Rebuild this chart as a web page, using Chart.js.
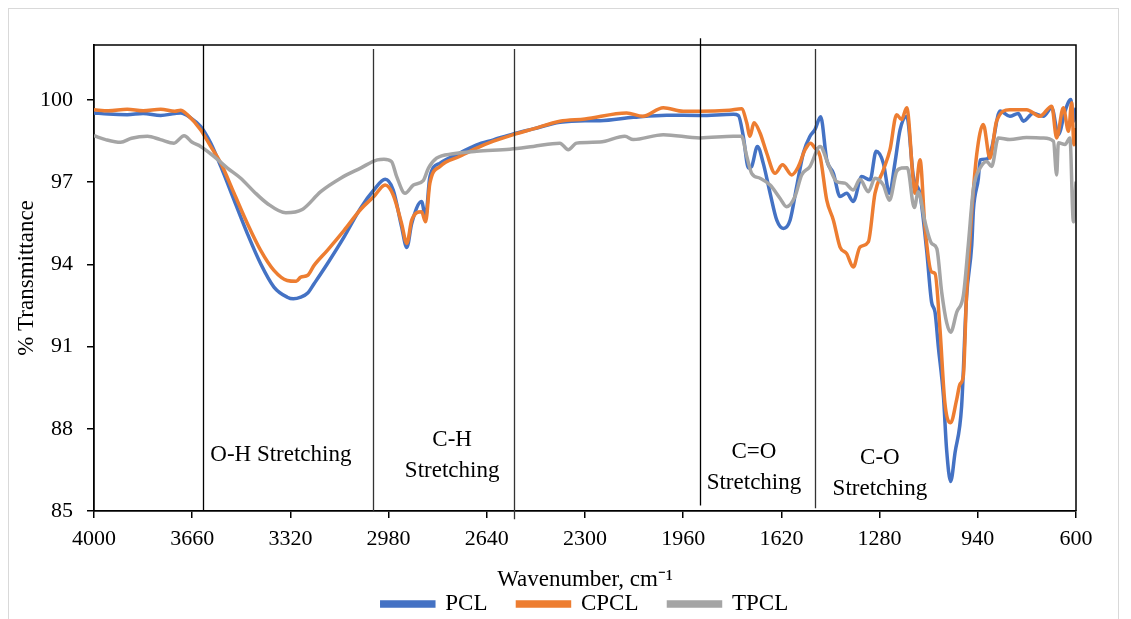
<!DOCTYPE html>
<html><head><meta charset="utf-8">
<script src="https://cdn.jsdelivr.net/npm/chart.js@4.4.1/dist/chart.umd.min.js"></script>
<style>
html,body{margin:0;padding:0;background:#fff;}
#wrap{position:relative;width:1131px;height:619px;overflow:hidden;background:#fff;}
#frame{position:absolute;left:8px;top:8px;width:1111px;height:660px;border:1px solid #d9d9d9;box-sizing:border-box;}
canvas{position:absolute;left:0;top:0;}
</style></head><body>
<div id="wrap"><div id="frame"></div><canvas id="c" width="1131" height="619"></canvas></div>
<script>
const seriesNames = ['PCL', 'CPCL', 'TPCL'];
const xTickValues = [4000, 3660, 3320, 2980, 2640, 2300, 1960, 1620, 1280, 940, 600];
const yTickValues = [85, 88, 91, 94, 97, 100];

const pclWave = [4000,3950,3885,3830,3769,3720,3700,3665,3631,3596,3561,3515,3469,3423,3377,3331,3310,3284,3260,3238,3192,3134,3077,3031,2992,2964,2935,2917,2900,2866,2852,2837,2802,2733,2675,2617,2548,2479,2387,2300,2248,2133,2017,1902,1786,1769,1752,1734,1723,1703,1683,1659,1636,1613,1590,1567,1544,1521,1504,1484,1463,1440,1417,1394,1371,1342,1313,1292,1267,1246,1227,1209,1186,1163,1140,1117,1100,1088,1077,1059,1048,1034,1019,996,979,961,955,938,932,909,892,863,829,800,782,748,713,684,661,638,618,609,600];
const pclT = [99.52,99.48,99.46,99.50,99.43,99.50,99.52,99.34,99.03,98.42,97.57,96.34,95.12,94.02,93.17,92.80,92.74,92.80,92.95,93.29,94.02,95.00,96.05,96.71,97.10,96.71,95.37,94.61,95.49,96.29,95.73,97.20,97.69,98.06,98.36,98.54,98.76,98.94,99.18,99.24,99.24,99.36,99.44,99.43,99.47,99.43,98.67,97.51,97.57,98.30,97.69,96.59,95.61,95.31,95.61,96.84,98.06,98.67,98.91,99.38,97.81,97.32,96.47,96.59,96.29,97.20,97.08,98.12,97.69,96.59,97.69,98.91,99.40,97.20,96.55,94.50,92.62,92.25,91.03,89.19,87.24,86.08,87.12,88.83,92.80,94.70,96.00,97.14,97.81,97.84,98.24,99.59,99.40,99.50,99.22,99.51,99.40,99.71,98.73,99.59,100.01,99.22,99.71];

const cpclWave = [4000,3950,3885,3830,3769,3720,3700,3677,3631,3596,3561,3515,3469,3423,3377,3331,3300,3284,3260,3238,3192,3134,3077,3031,2992,2964,2935,2917,2900,2866,2852,2837,2802,2733,2675,2617,2548,2479,2387,2300,2156,2100,2029,1960,1902,1800,1758,1740,1729,1715,1694,1671,1642,1616,1584,1561,1538,1519,1504,1486,1463,1440,1417,1394,1371,1348,1319,1296,1267,1244,1221,1204,1186,1157,1140,1123,1100,1088,1071,1054,1034,1013,1002,990,979,967,961,944,921,898,875,829,771,725,684,667,644,626,615,607,600];
const cpclT = [99.64,99.60,99.66,99.60,99.66,99.58,99.62,99.46,98.91,98.30,97.69,96.59,95.49,94.51,93.78,93.41,93.38,93.53,93.60,93.96,94.51,95.24,96.00,96.47,96.89,96.53,95.49,94.76,95.61,95.92,95.55,96.96,97.57,97.94,98.24,98.49,98.73,98.94,99.22,99.30,99.52,99.40,99.71,99.58,99.58,99.62,99.67,99.16,98.67,99.16,98.79,98.06,97.32,97.63,97.26,97.57,98.18,98.42,98.24,97.94,96.34,95.61,94.63,94.39,93.90,94.63,94.82,96.59,97.44,98.18,99.46,99.28,99.71,96.59,97.81,95.37,93.72,93.66,91.64,88.95,88.22,89.07,89.62,89.93,92.86,94.94,95.92,97.99,99.10,97.87,99.22,99.64,99.64,99.40,99.77,98.61,99.71,98.85,99.89,98.36,98.97];

const tpclWave = [4000,3960,3908,3870,3815,3770,3723,3688,3660,3631,3585,3538,3492,3446,3400,3336,3279,3215,3146,3077,3019,2996,2970,2952,2923,2894,2860,2842,2814,2756,2675,2560,2479,2387,2358,2329,2248,2162,2133,2029,1902,1786,1758,1740,1723,1694,1659,1625,1602,1573,1550,1521,1486,1457,1429,1400,1371,1348,1319,1296,1267,1246,1221,1204,1184,1160,1146,1123,1100,1082,1065,1048,1034,1013,990,973,955,932,909,892,869,829,771,713,678,667,661,638,621,609,600];
const tpclT = [98.69,98.55,98.45,98.60,98.67,98.55,98.42,98.69,98.45,98.30,97.94,97.51,97.14,96.65,96.22,95.88,96.00,96.65,97.14,97.51,97.81,97.83,97.75,97.20,96.59,96.89,97.05,97.51,97.87,98.03,98.12,98.20,98.30,98.42,98.18,98.42,98.46,98.67,98.55,98.73,98.61,98.67,98.67,97.94,97.32,97.14,96.89,96.41,96.10,96.47,97.26,97.57,98.30,97.63,97.02,96.96,96.71,97.10,96.65,97.14,96.89,96.34,97.39,97.51,97.52,96.07,96.65,95.55,94.76,94.57,92.98,91.88,91.52,92.25,92.86,94.70,96.77,97.51,97.75,97.57,98.61,98.55,98.63,98.61,98.49,97.26,98.43,98.37,98.61,95.55,97.02];

const FONT = "'Liberation Serif', 'Times New Roman', serif";
Chart.defaults.font.family = FONT;
Chart.defaults.color = '#000';

const toPts = (w, t) => w.map((x, i) => ({x: x, y: t[i]}));

const overlay = {
  id: 'overlay',
  afterDatasetsDraw(chart, args, opts) {
    const {ctx, chartArea: a, scales: {x, y}} = chart;
    ctx.save();
    ctx.strokeStyle = '#000';
    ctx.lineWidth = 1.5;
    ctx.beginPath();
    ctx.moveTo(a.left, a.top);
    ctx.lineTo(a.right, a.top);
    ctx.lineTo(a.right, a.bottom);
    ctx.stroke();
    opts.guides.forEach(g => {
      const px = Math.round(x.getPixelForValue(g.w)) + 0.5;
      ctx.strokeStyle = g.color;
      ctx.lineWidth = 1.3;
      ctx.beginPath();
      ctx.moveTo(px, y.getPixelForValue(g.top));
      ctx.lineTo(px, y.getPixelForValue(g.bottom));
      ctx.stroke();
    });
    ctx.font = opts.fontSize + 'px ' + FONT;
    ctx.fillStyle = '#000';
    ctx.textAlign = 'center';
    ctx.textBaseline = 'middle';
    opts.labels.forEach(l => {
      const px = x.getPixelForValue(l.w);
      const py = y.getPixelForValue(l.t);
      l.lines.forEach((t, i) => ctx.fillText(t, px, py + i * opts.lineGap));
    });
    ctx.restore();
  }
};

const mk = (label, pts, color, order) => ({
  label: label, data: pts, borderColor: color, backgroundColor: color,
  borderWidth: 3.5, pointRadius: 0, showLine: true, fill: false,
  cubicInterpolationMode: 'monotone', order: order
});

new Chart(document.getElementById('c'), {
  type: 'scatter',
  data: {
    datasets: [
      mk(seriesNames[0], toPts(pclWave, pclT), '#4472C4', 3),
      mk(seriesNames[1], toPts(cpclWave, cpclT), '#ED7D31', 2),
      mk(seriesNames[2], toPts(tpclWave, tpclT), '#A5A5A5', 1)
    ]
  },
  options: {
    responsive: false, devicePixelRatio: 1, animation: false,
    layout: {padding: {left: 8, top: 45, right: 55, bottom: 0}},
    plugins: {
      tooltip: {enabled: false},
      legend: {
        position: 'bottom', fullSize: false, maxHeight: 56.5,
        labels: {
          boxWidth: 52, boxHeight: 4, padding: 30, color: '#000',
          font: {size: 23, family: FONT},
          sort: (a, b) => a.datasetIndex - b.datasetIndex
        }
      },
      overlay: {
        fontSize: 23, lineGap: 31,
        guides: [
          {w: 3623, top: 102, bottom: 85, color: '#000'},
          {w: 3034, top: 101.85, bottom: 85, color: '#333'},
          {w: 2546, top: 101.85, bottom: 84.7, color: '#333'},
          {w: 1902, top: 102.25, bottom: 85.2, color: '#000'},
          {w: 1503, top: 101.85, bottom: 85.1, color: '#333'}
        ],
        labels: [
          {w: 3353, t: 87.06, lines: ['O-H Stretching']},
          {w: 2760, t: 87.6, lines: ['C-H', 'Stretching']},
          {w: 1715, t: 87.17, lines: ['C=O', 'Stretching']},
          {w: 1279, t: 86.95, lines: ['C-O', 'Stretching']}
        ]
      }
    },
    scales: {
      x: {
        type: 'linear', reverse: true, min: 600, max: 4000,
        afterBuildTicks: s => { s.ticks = xTickValues.map(v => ({value: v})); },
        afterFit: s => { s.height = 619 - 511 - 56.5; },
        ticks: {font: {size: 22}, color: '#000', padding: 8, maxRotation: 0, autoSkip: false, callback: v => String(v)},
        grid: {drawOnChartArea: false, drawTicks: true, tickLength: 7, color: '#000', lineWidth: 1.5},
        border: {color: '#000', width: 1.8},
        title: {display: true, text: 'Wavenumber, cm\u207B\u00B9', font: {size: 23}, color: '#000', padding: {top: 0, bottom: -31}}
      },
      y: {
        type: 'linear', min: 85, max: 102,
        afterBuildTicks: s => { s.ticks = yTickValues.map(v => ({value: v})); },
        afterFit: s => { s.width = 86; },
        ticks: {font: {size: 22}, color: '#000', padding: 14, callback: v => String(v)},
        grid: {drawOnChartArea: false, drawTicks: true, tickLength: 7, color: '#000', lineWidth: 1.5},
        border: {color: '#000', width: 1.8},
        title: {display: true, text: '% Transmittance', font: {size: 23}, color: '#000', padding: {top: 5, bottom: 0}}
      }
    }
  },
  plugins: [overlay]
});
</script></body></html>
